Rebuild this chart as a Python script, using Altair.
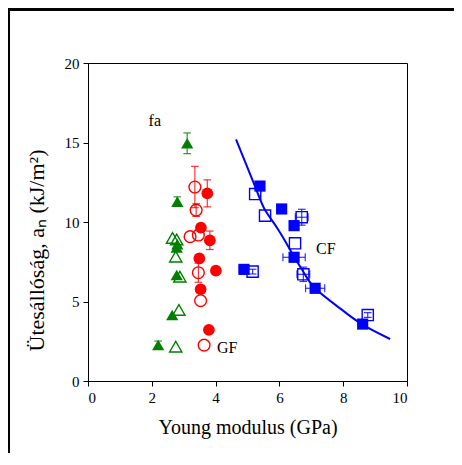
import altair as alt
import pandas as pd

# ---- data ----
# fa : green triangles
fa_fill_x = [3.11, 2.80, 2.80, 2.78, 2.78, 2.64, 2.20]
fa_fill_y = [14.95, 11.28, 8.60, 8.40, 6.67, 4.15, 2.26]
fa_fill_yerr = [0.65, 0.30, 0.0, 0.0, 0.0, 0.0, 0.25]
fa_open_x = [2.65, 2.78, 2.75, 2.88, 2.85, 2.75]
fa_open_y = [9.00, 8.90, 7.82, 6.56, 4.47, 2.16]

# GF : red circles
gf_fill_x = [3.74, 3.54, 3.82, 3.49, 4.01, 3.53, 3.79]
gf_fill_y = [11.80, 9.64, 8.85, 7.71, 6.94, 5.77, 3.21]
gf_fill_yerr = [0.85, 0.0, 0.58, 0.0, 0.0, 0.0, 0.20]
gf_open_x = [3.35, 3.39, 3.20, 3.46, 3.46, 3.53, 3.64]
gf_open_y = [12.20, 10.75, 9.08, 9.18, 6.81, 5.05, 2.26]
gf_open_yerr = [1.30, 0.40, 0.0, 0.0, 0.60, 0.0, 0.0]

# CF : blue squares
cf_fill_x = [5.39, 6.07, 6.46, 6.46, 7.12, 8.61, 4.89]
cf_fill_y = [12.26, 10.82, 9.77, 7.78, 5.83, 3.58, 7.02]
cf_fill_xerr = [0.10, 0.12, 0.0, 0.35, 0.30, 0.0, 0.15]
cf_fill_yerr = [0.0, 0.0, 0.30, 0.0, 0.0, 0.0, 0.0]
cf_open_x = [5.24, 5.55, 6.70, 6.49, 6.75, 8.77, 5.16]
cf_open_y = [11.76, 10.40, 10.30, 8.66, 6.71, 4.15, 6.88]
cf_open_xerr = [0.0, 0.0, 0.20, 0.0, 0.20, 0.0, 0.0]
cf_open_yerr = [0.0, 0.0, 0.50, 0.0, 0.45, 0.15, 0.15]

# fitted curve through CF
curve_x = [4.64, 5.24, 5.55, 5.97, 6.46, 6.75, 7.12, 7.90, 8.58, 9.47]
curve_y = [15.20, 12.22, 10.75, 9.50, 7.82, 6.87, 5.83, 4.57, 3.58, 2.64]

label_text = ["fa", "GF", "CF"]
label_x = [1.90, 4.04, 7.15]
label_y = [16.35, 2.08, 8.30]

x_ticks = [0, 2, 4, 6, 8, 10]
y_ticks = [0, 5, 10, 15, 20]

# ---- build tables ----
rows = []
def add(group, filled, xs, ys, xerr=None, yerr=None):
    for i in range(len(xs)):
        rows.append(dict(group=group, filled=filled, x=xs[i], y=ys[i],
                         xerr=(xerr[i] if xerr else 0.0),
                         yerr=(yerr[i] if yerr else 0.0)))

add("fa", True, fa_fill_x, fa_fill_y, yerr=fa_fill_yerr)
add("fa", False, fa_open_x, fa_open_y)
add("GF", True, gf_fill_x, gf_fill_y, yerr=gf_fill_yerr)
add("GF", False, gf_open_x, gf_open_y, yerr=gf_open_yerr)
add("CF", True, cf_fill_x, cf_fill_y, xerr=cf_fill_xerr, yerr=cf_fill_yerr)
add("CF", False, cf_open_x, cf_open_y, xerr=cf_open_xerr, yerr=cf_open_yerr)
df = pd.DataFrame(rows)

CAP_X = 0.12   # half width of caps on vertical bars (GPa)
CAP_Y = 0.25   # half height of caps on horizontal bars (kJ/m2)

vb = df[df.yerr > 0].copy()
vb["lo"] = vb.y - vb.yerr
vb["hi"] = vb.y + vb.yerr
vcaps = pd.concat([
    pd.DataFrame(dict(group=vb.group, x1=vb.x - CAP_X, x2=vb.x + CAP_X, yy=vb.lo)),
    pd.DataFrame(dict(group=vb.group, x1=vb.x - CAP_X, x2=vb.x + CAP_X, yy=vb.hi)),
])
hb = df[df.xerr > 0].copy()
hb["lo"] = hb.x - hb.xerr
hb["hi"] = hb.x + hb.xerr
hcaps = pd.concat([
    pd.DataFrame(dict(group=hb.group, xx=hb.lo, y1=hb.y - CAP_Y, y2=hb.y + CAP_Y)),
    pd.DataFrame(dict(group=hb.group, xx=hb.hi, y1=hb.y - CAP_Y, y2=hb.y + CAP_Y)),
])

curve = pd.DataFrame(dict(x=curve_x, y=curve_y))
labels = pd.DataFrame(dict(t=label_text, x=label_x, y=label_y))

FONT = "Liberation Serif"
groups = ["fa", "GF", "CF"]
col_scale = alt.Scale(domain=groups, range=["#008000", "#ff0000", "#0000ff"])
shp_scale = alt.Scale(domain=groups, range=["triangle-up", "circle", "square"])
size_scale = alt.Scale(domain=groups, range=[150, 125, 120])

xs = alt.Scale(domain=[0, 10], nice=False, zero=False)
ys = alt.Scale(domain=[0, 20], nice=False, zero=False)

X = alt.X("x:Q", scale=xs, axis=alt.Axis(
    values=x_ticks, title="Young modulus (GPa)", grid=False,
    labelFont=FONT, titleFont=FONT,
    titleX=159.5, titleY=52, titleBaseline="alphabetic", titleAlign="center"))
Y = alt.Y("y:Q", scale=ys, axis=alt.Axis(
    values=y_ticks, title="Ütesállóság, aₙ (kJ/m²)", grid=False,
    labelFont=FONT, titleFont=FONT, titleFontSize=22,
    titleX=-52, titleY=187, titleAngle=270, titleBaseline="middle",
    titleAlign="center"))

colr = alt.Color("group:N", scale=col_scale, legend=None)

vbars = alt.Chart(vb).mark_rule(strokeWidth=1.2, opacity=0.8).encode(
    x=alt.X("x:Q", scale=xs), y=alt.Y("lo:Q", scale=ys), y2="hi:Q", color=colr)
vcap = alt.Chart(vcaps).mark_rule(strokeWidth=1.2, opacity=0.8).encode(
    x=alt.X("x1:Q", scale=xs), x2="x2:Q", y=alt.Y("yy:Q", scale=ys), color=colr)
hbars = alt.Chart(hb).mark_rule(strokeWidth=1.2, opacity=0.8).encode(
    x=alt.X("lo:Q", scale=xs), x2="hi:Q", y=alt.Y("y:Q", scale=ys), color=colr)
hcap = alt.Chart(hcaps).mark_rule(strokeWidth=1.2, opacity=0.8).encode(
    x=alt.X("xx:Q", scale=xs), y=alt.Y("y1:Q", scale=ys), y2="y2:Q", color=colr)

line = alt.Chart(curve).mark_line(color="#0000ff", strokeWidth=2,
                                  interpolate="natural").encode(x=X, y=Y)

pts_fill = alt.Chart(df[df.filled]).mark_point(filled=True, opacity=1).encode(
    x=alt.X("x:Q", scale=xs), y=alt.Y("y:Q", scale=ys), color=colr,
    shape=alt.Shape("group:N", scale=shp_scale, legend=None),
    size=alt.Size("group:N", scale=size_scale, legend=None))
pts_open = alt.Chart(df[~df.filled]).mark_point(filled=False, strokeWidth=1.4,
                                               opacity=1).encode(
    x=alt.X("x:Q", scale=xs), y=alt.Y("y:Q", scale=ys), color=colr,
    shape=alt.Shape("group:N", scale=shp_scale, legend=None),
    size=alt.Size("group:N", scale=size_scale, legend=None))

txt = alt.Chart(labels).mark_text(font=FONT, fontSize=16, align="left",
                                  baseline="middle", color="black").encode(
    x=alt.X("x:Q", scale=xs), y=alt.Y("y:Q", scale=ys), text="t:N")

# outer figure frame (left and top edges)
frame_left = alt.Chart(labels).mark_rule(color="black", strokeWidth=2.5).encode(
    x=alt.value(-79.5), y=alt.value(-55), y2=alt.value(395))
frame_top = alt.Chart(labels).mark_rule(color="black", strokeWidth=2.5).encode(
    x=alt.value(-81), x2=alt.value(370), y=alt.value(-53.5))

chart = alt.layer(
    frame_left, frame_top, line, vbars, vcap, hbars, hcap, pts_open, pts_fill, txt
).properties(
    width=319, height=318,
    autosize=alt.AutoSizeParams(type="none"),
    padding={"left": 80, "top": 55, "right": 47, "bottom": 72},
).configure_view(
    stroke="black", strokeWidth=1
).configure_axis(
    labelFont=FONT, titleFont=FONT, labelFontSize=15, titleFontSize=20,
    labelColor="black", titleColor="black", titleFontWeight="normal",
    domainColor="black", tickColor="black", tickSize=5, labelPadding=4,
    domainWidth=1, tickWidth=1
)

chart.save("out.html", embed_options={"renderer": "svg", "actions": False})
